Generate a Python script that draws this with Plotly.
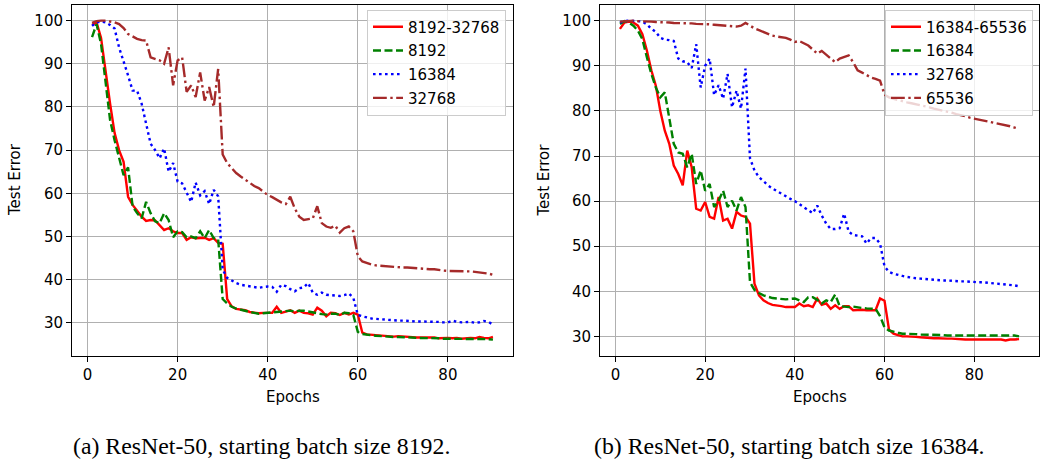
import plotly.graph_objects as go

epochs = list(range(1, 91))

# ---- (a) starting batch size 8192 ----
a_names = ["8192-32768", "8192", "16384", "32768"]
a_8192_32768 = [99.0, 99.6, 96.0, 87.7, 80.8, 74.0, 70.0, 67.3, 59.2, 57.3,
                55.8, 54.6, 53.6, 53.8, 53.7, 52.7, 51.5, 51.9, 51.2, 50.8,
                50.8, 49.2, 49.8, 49.6, 49.7, 49.7, 49.2, 49.6, 48.5, 48.3,
                35.5, 33.8, 33.2, 33.1, 32.9, 32.5, 32.4, 32.2, 32.3, 32.3,
                32.3, 33.7, 32.3, 32.6, 32.9, 32.3, 32.8, 32.3, 32.2, 31.9,
                33.5, 32.8, 31.5, 32.3, 32.2, 31.8, 32.3, 31.9, 32.3, 31.9,
                27.7, 27.3, 27.2, 27.1, 27.0, 26.9, 26.9, 26.8, 26.9, 26.8,
                26.7, 26.7, 26.6, 26.6, 26.6, 26.5, 26.6, 26.4, 26.5, 26.5,
                26.4, 26.5, 26.3, 26.4, 26.5, 26.4, 26.7, 26.5, 26.4, 26.7]
a_8192 = [96.2, 99.2, 94.6, 85.4, 77.0, 72.3, 68.5, 64.2, 66.0, 57.0,
          55.4, 54.2, 58.0, 55.4, 53.5, 53.1, 55.4, 53.8, 49.8, 51.2,
          51.0, 49.8, 50.0, 49.6, 51.2, 49.6, 51.5, 49.6, 49.4, 35.5,
          34.5, 33.7, 33.3, 33.0, 32.7, 32.5, 32.3, 32.1, 32.2, 32.3,
          32.4, 32.6, 32.6, 32.7, 32.8, 32.6, 32.8, 32.8, 32.6, 32.3,
          32.2, 32.0, 31.9, 32.1, 32.1, 31.8, 32.3, 32.2, 31.8, 27.9,
          27.4, 27.2, 27.1, 27.0, 26.9, 26.8, 26.8, 26.7, 26.7, 26.7,
          26.6, 26.6, 26.5, 26.5, 26.5, 26.4, 26.4, 26.4, 26.3, 26.3,
          26.3, 26.3, 26.3, 26.2, 26.2, 26.2, 26.2, 26.2, 26.2, 26.1]
a_16384 = [98.8, 99.6, 99.8, 99.6, 99.0, 98.2, 93.8, 90.8, 87.3, 83.8,
           83.8, 80.8, 76.2, 71.5, 70.0, 68.1, 70.4, 65.0, 67.0, 62.7,
           62.3, 60.0, 58.0, 62.5, 59.5, 60.5, 57.5, 60.8, 59.3, 42.3,
           40.4, 39.8, 39.2, 38.8, 38.6, 38.5, 38.2, 38.1, 38.3, 38.4,
           38.3, 37.2, 38.8, 38.5, 37.8, 37.3, 38.0, 38.2, 39.2, 37.0,
           36.5, 37.0, 36.5, 36.4, 36.4, 36.2, 36.4, 36.8, 35.8, 31.8,
           31.5, 31.2, 31.0, 30.9, 30.8, 30.7, 30.7, 30.6, 30.5, 30.5,
           30.4, 30.4, 30.3, 30.3, 30.3, 30.2, 30.3, 30.2, 30.1, 30.1,
           30.5, 30.2, 30.1, 30.2, 30.2, 30.0, 30.1, 30.4, 30.2, 29.6]
a_32768 = [99.5, 99.9, 100.0, 100.0, 99.8, 99.6, 99.2, 98.3, 96.9, 96.3,
           95.8, 95.5, 95.4, 91.5, 91.2, 90.8, 90.0, 93.8, 85.0, 90.8,
           91.5, 83.5, 85.0, 82.3, 88.0, 81.5, 84.6, 80.0, 88.8, 69.0,
           67.0, 65.8, 64.7, 63.9, 63.1, 62.4, 61.7, 61.2, 60.4, 59.6,
           59.1, 58.5, 57.9, 57.5, 59.2, 56.5, 54.6, 53.8, 54.0, 54.2,
           57.0, 53.1, 52.3, 52.0, 52.5, 50.9, 51.9, 52.3, 51.2, 45.4,
           44.2, 43.8, 43.5, 43.3, 43.2, 43.1, 43.0, 42.9, 42.9, 42.8,
           42.8, 42.7, 42.6, 42.6, 42.5, 42.4, 42.4, 42.2, 42.1, 42.0,
           42.0, 41.9, 41.9, 41.9, 41.9, 41.8, 41.7, 41.6, 41.4, 41.1]

# ---- (b) starting batch size 16384 ----
b_names = ["16384-65536", "16384", "32768", "65536"]
b_16384_65536 = [98.2, 99.6, 99.8, 99.6, 98.9, 97.0, 93.4, 89.0, 85.6, 80.0,
                 75.6, 72.7, 67.9, 66.0, 63.5, 71.2, 67.5, 58.3, 57.9, 59.8,
                 56.5, 56.1, 60.9, 55.7, 56.1, 53.9, 57.6, 56.8, 56.5, 55.0,
                 41.7, 39.1, 38.0, 37.4, 37.0, 36.9, 36.7, 36.5, 36.5, 36.5,
                 37.3, 36.7, 36.9, 36.5, 38.4, 37.0, 37.3, 36.1, 36.9, 36.1,
                 36.7, 36.7, 35.8, 35.9, 35.9, 35.8, 35.8, 35.8, 38.4, 37.9,
                 31.5, 30.6, 30.3, 30.0, 30.0, 30.0, 29.9, 29.8, 29.7, 29.7,
                 29.6, 29.6, 29.5, 29.5, 29.5, 29.4, 29.4, 29.3, 29.3, 29.3,
                 29.3, 29.3, 29.2, 29.3, 29.3, 29.3, 29.1, 29.3, 29.3, 29.4]
b_16384 = [99.3, 99.9, 99.6, 98.9, 97.8, 95.9, 91.9, 88.2, 85.2, 83.0,
           84.1, 77.9, 72.7, 70.8, 70.5, 67.5, 70.5, 63.8, 66.8, 62.3,
           63.8, 58.7, 60.1, 62.3, 58.7, 60.1, 57.9, 60.9, 58.7, 42.0,
           40.3, 39.6, 39.1, 38.8, 38.5, 38.4, 38.3, 38.2, 38.3, 38.4,
           38.0, 37.6, 38.7, 38.7, 38.1, 37.3, 38.0, 37.6, 39.3, 36.7,
           36.6, 36.5, 36.6, 36.4, 36.3, 36.2, 36.1, 36.1, 34.5, 32.0,
           31.3, 31.0, 30.8, 30.6, 30.6, 30.5, 30.5, 30.4, 30.4, 30.4,
           30.4, 30.3, 30.3, 30.2, 30.2, 30.2, 30.1, 30.1, 30.1, 30.1,
           30.1, 30.2, 30.1, 30.1, 30.1, 30.1, 30.1, 30.1, 30.2, 30.0]
b_32768 = [99.6, 99.9, 100.0, 100.0, 99.9, 99.8, 99.2, 98.2, 97.5, 96.2,
           95.8, 95.7, 95.5, 91.6, 91.0, 90.8, 89.5, 94.8, 85.2, 90.0,
           91.6, 83.5, 85.7, 82.7, 88.2, 80.8, 84.5, 80.5, 89.4, 69.5,
           66.8, 65.3, 64.3, 63.5, 62.8, 62.2, 61.7, 61.1, 60.5, 60.0,
           59.3, 58.5, 57.8, 57.3, 59.0, 56.8, 55.0, 53.8, 53.8, 54.0,
           57.2, 53.2, 52.5, 52.4, 52.2, 50.6, 51.8, 51.8, 50.6, 45.5,
           44.3, 43.9, 43.6, 43.4, 43.2, 43.0, 42.9, 42.8, 42.7, 42.7,
           42.6, 42.5, 42.4, 42.4, 42.3, 42.3, 42.2, 42.2, 42.1, 42.1,
           42.0, 42.0, 41.9, 41.9, 41.8, 41.7, 41.6, 41.5, 41.3, 41.1]
b_65536 = [99.8, 99.9, 100.0, 100.0, 99.9, 99.9, 99.8, 99.8, 99.7, 99.7,
           99.6, 99.6, 99.5, 99.5, 99.5, 99.4, 99.4, 99.3, 99.3, 99.3,
           99.2, 99.1, 99.0, 99.0, 98.9, 98.8, 98.7, 98.9, 99.5, 98.9,
           98.3, 97.9, 97.5, 97.0, 96.7, 96.5, 96.4, 96.2, 95.8, 95.3,
           95.5, 95.0, 94.5, 93.6, 92.7, 93.3, 92.5, 91.6, 90.8, 91.6,
           92.0, 92.3, 90.8, 89.0, 88.5, 87.9, 87.4, 87.1, 86.7, 83.6,
           83.0, 82.7, 82.4, 82.1, 81.9, 81.7, 81.5, 81.3, 81.0, 80.8,
           80.5, 80.3, 80.0, 79.8, 79.6, 79.3, 79.1, 78.8, 78.5, 78.3,
           78.1, 77.9, 77.7, 77.5, 77.3, 77.1, 76.9, 76.6, 76.3, 76.0]

x_ticks = [0, 20, 40, 60, 80]
y_ticks = [30, 40, 50, 60, 70, 80, 90, 100]
captions = ["(a) ResNet-50, starting batch size 8192.",
            "(b) ResNet-50, starting batch size 16384."]

colors = ["#ff0000", "#008000", "#0000ff", "#a52a2a"]
dashes = ["solid", "8px,3.5px", "2.6px,3.4px", "13.8px,3.5px,2.4px,3.5px"]
LW = 2.4
FONT = "DejaVu Sans"
W, H = 1040, 461

fig = go.Figure()
for i, (name, ys) in enumerate(zip(a_names, [a_8192_32768, a_8192, a_16384, a_32768])):
    fig.add_trace(go.Scatter(x=epochs, y=ys, mode="lines", name=name,
                             legendgroup="a%d" % i,
                             line=dict(color=colors[i], width=LW, dash=dashes[i]),
                             xaxis="x", yaxis="y", legend="legend"))
for i, (name, ys) in enumerate(zip(b_names, [b_16384_65536, b_16384, b_32768, b_65536])):
    fig.add_trace(go.Scatter(x=epochs, y=ys, mode="lines", name=name,
                             legendgroup="b%d" % i,
                             line=dict(color=colors[i], width=LW, dash=dashes[i]),
                             xaxis="x2", yaxis="y2", legend="legend2"))

ydom = [1 - 356 / H, 1 - 4.7 / H]
axis_common = dict(showline=True, linecolor="black", linewidth=1, mirror=True,
                   ticks="outside", ticklen=5, tickwidth=1, tickcolor="black",
                   showgrid=True, gridcolor="#b0b0b0", gridwidth=1, zeroline=False,
                   tickfont=dict(family=FONT, size=15, color="black"))

leg_common = dict(yanchor="top", xanchor="right",
                  bgcolor="rgba(255,255,255,0.8)", bordercolor="#cccccc", borderwidth=1,
                  tracegroupgap=1.2,
                  font=dict(family=FONT, size=15, color="black"))

fig.update_layout(
    width=W, height=H, margin=dict(l=0, r=0, t=0, b=0),
    paper_bgcolor="white", plot_bgcolor="white",
    xaxis=dict(domain=[72 / W, 513 / W], range=[-3.45, 94.45], tickvals=x_ticks,
               anchor="y", **axis_common),
    yaxis=dict(domain=ydom, range=[22.3, 103.7], tickvals=y_ticks, anchor="x", **axis_common),
    xaxis2=dict(domain=[600 / W, 1039 / W], range=[-3.45, 94.45], tickvals=x_ticks,
                anchor="y2", **axis_common),
    yaxis2=dict(domain=ydom, range=[25.65, 103.55], tickvals=y_ticks, anchor="x2", **axis_common),
    legend=dict(x=506 / W, y=1 - 9.5 / H, **leg_common),
    legend2=dict(x=1033 / W, y=1 - 9.5 / H, **leg_common),
    showlegend=True,
)

ann_font = dict(family=FONT, size=15, color="black")
for xc in [15, 543.5]:
    fig.add_annotation(x=xc / W, y=1 - 180 / H, xref="paper", yref="paper",
                       text="Test Error", showarrow=False, textangle=-90,
                       font=ann_font, xanchor="center", yanchor="middle")
for xc in [292.5, 819.5]:
    fig.add_annotation(x=xc / W, y=1 - 396.7 / H, xref="paper", yref="paper",
                       text="Epochs", showarrow=False, font=ann_font,
                       xanchor="center", yanchor="middle")
for xc, cap in zip([261, 789.5], captions):
    fig.add_annotation(x=xc / W, y=1 - 445.5 / H, xref="paper", yref="paper",
                       text=cap, showarrow=False,
                       font=dict(family="Liberation Serif", size=23.8, color="black"),
                       xanchor="center", yanchor="middle")

fig.write_html("out.html", config={"displayModeBar": False},
               post_script="document.body.style.margin='0';document.body.style.overflow='hidden';")
